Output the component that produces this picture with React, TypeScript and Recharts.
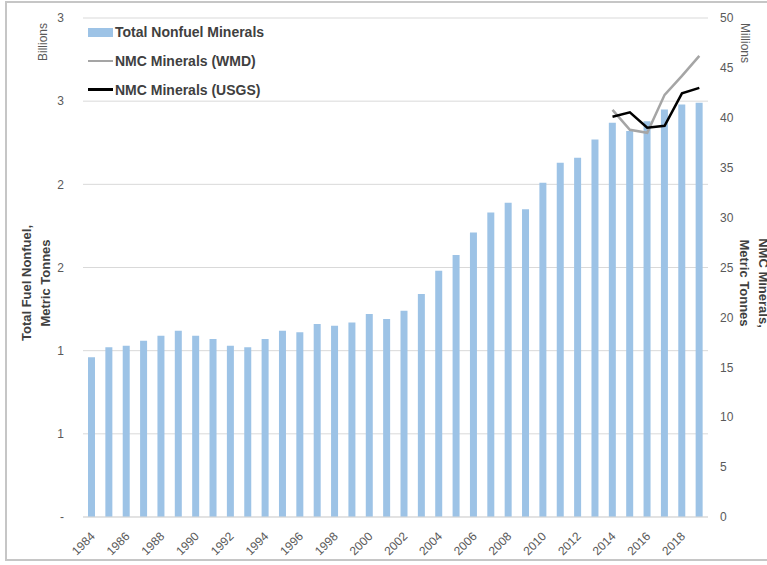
import { ComposedChart, Bar, Line, XAxis, YAxis, CartesianGrid } from 'recharts';

const years = [
  '1984', '1985', '1986', '1987', '1988', '1989', '1990', '1991', '1992', '1993', '1994', '1995',
  '1996', '1997', '1998', '1999', '2000', '2001', '2002', '2003', '2004', '2005', '2006', '2007',
  '2008', '2009', '2010', '2011', '2012', '2013', '2014', '2015', '2016', '2017', '2018', '2019',
];

// billions of tonnes
const totalNonfuel = [
  0.96, 1.02, 1.03, 1.06, 1.09, 1.12, 1.09, 1.07, 1.03, 1.02, 1.07, 1.12,
  1.11, 1.16, 1.15, 1.17, 1.22, 1.19, 1.24, 1.34, 1.48, 1.575, 1.71, 1.83,
  1.89, 1.85, 2.01, 2.13, 2.16, 2.27, 2.37, 2.32, 2.38, 2.45, 2.48, 2.49,
];

// millions of tonnes, only reported from 2014
const nmcYears = ['2014', '2015', '2016', '2017', '2018', '2019'];
const nmcWmd = [40.8, 38.8, 38.5, 42.3, 44.2, 46.2];
const nmcUsgs = [40.1, 40.55, 39.0, 39.2, 42.45, 43.0];

const leftTicks = [0, 0.5, 1, 1.5, 2, 2.5, 3];
const leftTickLabels = ['-', '1', '1', '2', '2', '3', '3'];
const rightTicks = [0, 5, 10, 15, 20, 25, 30, 35, 40, 45, 50];

const seriesNames = ['Total Nonfuel Minerals', 'NMC Minerals (WMD)', 'NMC Minerals (USGS)'];

const data = years.map((year, i) => {
  const k = nmcYears.indexOf(year);
  return {
    year,
    total: totalNonfuel[i],
    wmd: k >= 0 ? nmcWmd[k] : null,
    usgs: k >= 0 ? nmcUsgs[k] : null,
  };
});

const FONT = '"Liberation Sans", Arial, sans-serif';
const TICK = '#595959';
const TITLE = '#404040';
const BAR = '#9dc3e6';
const WMD = '#a5a5a5';
const USGS = '#000000';

const YearTick = ({ x, y, payload }: any) => (
  <text
    x={x + 4}
    y={y + 18}
    transform={`rotate(-45, ${x + 4}, ${y + 18})`}
    textAnchor="end"
    fontSize={12}
    fontFamily={FONT}
    fill={TICK}
  >
    {payload.value}
  </text>
);

// legend sits inside the plot area, top-left
const LegendBox = () => {
  const icons = [
    <div style={{ width: 25, height: 9, background: BAR }} />,
    <div style={{ width: 25, height: 2.5, background: WMD }} />,
    <div style={{ width: 25, height: 3, background: USGS }} />,
  ];
  return (
    <div
      style={{
        position: 'absolute',
        left: 88,
        top: 18,
        fontFamily: FONT,
        fontSize: 14,
        fontWeight: 'bold',
        color: TITLE,
      }}
    >
      {seriesNames.map((name, i) => (
        <div key={name} style={{ display: 'flex', alignItems: 'center', height: 28.7 }}>
          {icons[i]}
          <span style={{ marginLeft: 2, whiteSpace: 'nowrap' }}>{name}</span>
        </div>
      ))}
    </div>
  );
};

const rotated = (cx: number, cy: number, deg: number, extra: any = {}) => ({
  position: 'absolute' as const,
  left: cx,
  top: cy,
  transform: `translate(-50%, -50%) rotate(${deg}deg)`,
  whiteSpace: 'pre' as const,
  textAlign: 'center' as const,
  fontFamily: FONT,
  ...extra,
});

export default function App() {
  return (
    <div
      style={{
        position: 'fixed',
        left: 0,
        top: 0,
        width: 767,
        height: 565,
        overflow: 'hidden',
        background: '#fff',
      }}
    >
      <div
        style={{
          position: 'absolute',
          left: 5,
          top: 1,
          width: 800,
          height: 560,
          border: '2px solid #c6c6c6',
          boxSizing: 'border-box',
        }}
      />
      <div style={{ position: 'absolute', left: 0, top: 0 }}>
        <ComposedChart
          width={767}
          height={565}
          data={data}
          margin={{ top: 18, right: 0, bottom: 0, left: 0 }}
        >
          <CartesianGrid vertical={false} stroke="#d9d9d9" yAxisId="left" />
          <XAxis
            dataKey="year"
            interval={1}
            tickLine={false}
            tickSize={0}
            axisLine={{ stroke: '#d9d9d9' }}
            height={48}
            tick={<YearTick />}
          />
          <YAxis
            yAxisId="left"
            width={83}
            domain={[0, 3]}
            ticks={leftTicks}
            tickFormatter={(v: number) => leftTickLabels[leftTicks.indexOf(v)]}
            axisLine={false}
            tickLine={false}
            tickSize={0}
            tickMargin={19}
            tick={{ fill: TICK, fontSize: 12, fontFamily: FONT }}
          />
          <YAxis
            yAxisId="right"
            orientation="right"
            width={59}
            domain={[0, 50]}
            ticks={rightTicks}
            axisLine={false}
            tickLine={false}
            tickSize={0}
            tickMargin={12}
            tick={{ fill: TICK, fontSize: 12, fontFamily: FONT }}
          />
          <Bar
            yAxisId="left"
            dataKey="total"
            name={seriesNames[0]}
            fill={BAR}
            barSize={7}
            isAnimationActive={false}
          />
          <Line
            yAxisId="right"
            dataKey="wmd"
            name={seriesNames[1]}
            stroke={WMD}
            strokeWidth={2.5}
            dot={false}
            activeDot={false}
            isAnimationActive={false}
          />
          <Line
            yAxisId="right"
            dataKey="usgs"
            name={seriesNames[2]}
            stroke={USGS}
            strokeWidth={2.5}
            dot={false}
            activeDot={false}
            isAnimationActive={false}
          />
        </ComposedChart>
      </div>
      <LegendBox />
      <div style={rotated(42.5, 42, -90, { fontSize: 12, color: TICK })}>Billions</div>
      <div style={rotated(745, 43, 90, { fontSize: 12, color: TICK })}>Millions</div>
      <div
        style={rotated(36, 283, -90, {
          fontSize: 13,
          fontWeight: 'bold',
          color: TITLE,
          lineHeight: '19px',
        })}
      >
        {'Total Fuel Nonfuel,\nMetric Tonnes'}
      </div>
      <div
        style={rotated(754, 283, 90, {
          fontSize: 13,
          fontWeight: 'bold',
          color: TITLE,
          lineHeight: '19px',
        })}
      >
        {'NMC Minerals,\nMetric Tonnes'}
      </div>
    </div>
  );
}
